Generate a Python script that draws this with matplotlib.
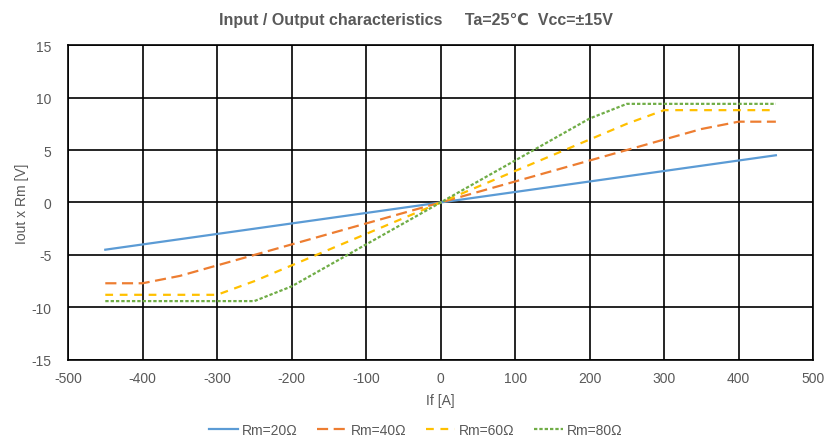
import numpy as np
import matplotlib.pyplot as plt

plt.rcParams['font.family'] = ['Liberation Sans', 'DejaVu Sans']
plt.rcParams['axes.unicode_minus'] = False

# input current If [A]
If = [-450, -400, -350, -300, -250, -200, -150, -100, -50, 0,
      50, 100, 150, 200, 250, 300, 350, 400, 450]

# output voltage Iout x Rm [V]
v_rm20 = [-4.5, -4.0, -3.5, -3.0, -2.5, -2.0, -1.5, -1.0, -0.5, 0.0,
          0.5, 1.0, 1.5, 2.0, 2.5, 3.0, 3.5, 4.0, 4.5]
v_rm40 = [-7.7, -7.7, -7.0, -6.0, -5.0, -4.0, -3.0, -2.0, -1.0, 0.0,
          1.0, 2.0, 3.0, 4.0, 5.0, 6.0, 7.0, 7.7, 7.7]
v_rm60 = [-8.8, -8.8, -8.8, -8.8, -7.5, -6.0, -4.5, -3.0, -1.5, 0.0,
          1.5, 3.0, 4.5, 6.0, 7.5, 8.8, 8.8, 8.8, 8.8]
v_rm80 = [-9.4, -9.4, -9.4, -9.4, -9.4, -8.0, -6.0, -4.0, -2.0, 0.0,
          2.0, 4.0, 6.0, 8.0, 9.4, 9.4, 9.4, 9.4, 9.4]

labels = ["Rm=20Ω", "Rm=40Ω", "Rm=60Ω", "Rm=80Ω"]
colors = ["#5B9BD5", "#ED7D31", "#FFC000", "#70AD47"]
gray = "#595959"

fig = plt.figure(figsize=(8.4, 4.39), dpi=100)
ax = fig.add_axes([0.081, 0.178, 0.887, 0.717])

ax.plot(If, v_rm20, color=colors[0], lw=1.6, label=labels[0])
ax.plot(If, v_rm40, color=colors[1], lw=1.6, dashes=(5, 2.5), label=labels[1])
ax.plot(If, v_rm60, color=colors[2], lw=1.6, dashes=(3.5, 3), label=labels[2])
ax.plot(If, v_rm80, color=colors[3], lw=1.6, dashes=(1.5, 0.9), label=labels[3])

ax.set_xlim(-500, 500)
ax.set_ylim(-15, 15)
ax.set_xticks(np.arange(-500, 501, 100))
ax.set_yticks(np.arange(-15, 16, 5))
ax.grid(True, color="black", lw=1.2)
ax.set_axisbelow(True)
for s in ax.spines.values():
    s.set_color("black")
    s.set_linewidth(1.2)
ax.tick_params(length=0, labelsize=10, labelcolor=gray)
ax.tick_params(axis="x", pad=8)
ax.tick_params(axis="y", pad=12)

ax.set_xlabel("If [A]", fontsize=10, color=gray, labelpad=6)
ax.set_ylabel("Iout x Rm [V]", fontsize=10, color=gray, labelpad=2)
fig.suptitle("Input / Output characteristics     Ta=25\u2103  Vcc=\u00b115V",
             x=0.495, y=0.97, fontsize=11.5, color=gray, fontweight="bold")

fig.legend(loc="center", ncol=4, frameon=False, fontsize=10,
           bbox_to_anchor=(0.495, 0.018), handlelength=2.1, handletextpad=0.3,
           columnspacing=1.4, labelcolor=gray)

fig.savefig("out.png", dpi=100)
